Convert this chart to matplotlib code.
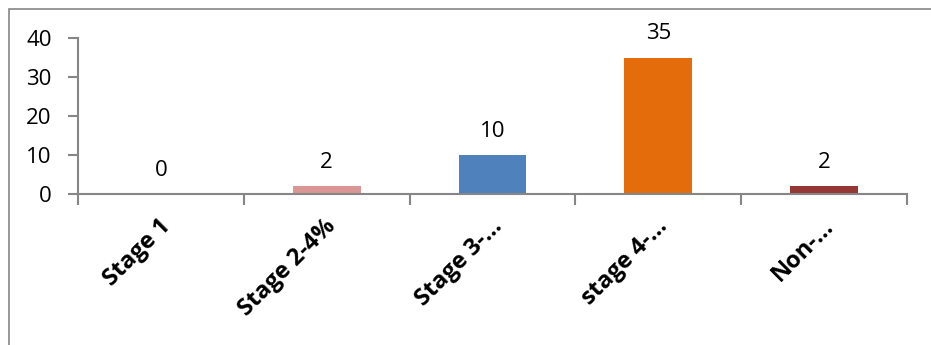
import numpy as np
import matplotlib
matplotlib.use("Agg")
import matplotlib.pyplot as plt
import matplotlib.transforms as mtransforms
from matplotlib.patches import Rectangle

categories = ["Stage 1", "Stage 2-4%", "Stage 3-\u2026", "stage 4-\u2026", "Non-\u2026"]
counts = [0, 2, 10, 35, 2]
bar_colors = ["#4F81BD", "#D99694", "#4F81BD", "#E46C0A", "#953735"]

grey = "#868686"
fs = 16

plt.rcParams["font.family"] = ["Open Sans", "DejaVu Sans"]

fig = plt.figure(figsize=(9.31, 3.45), dpi=100)
ax = fig.add_axes([78 / 931, 1 - 194 / 345, (907 - 78) / 931, (194 - 38) / 345])

x = np.arange(len(categories))
bars = ax.bar(x, counts, width=0.41, color=bar_colors)

for xi, v in zip(x, counts):
    ax.annotate(str(v), (xi, v), xytext=(0, 13), textcoords="offset points",
                ha="center", va="baseline", fontsize=fs, color="black")

ax.set_xlim(-0.5, len(categories) - 0.5)
ax.set_ylim(0, 40)
ax.set_yticks([0, 10, 20, 30, 40])

# tick marks at category boundaries, labels at centres
ax.set_xticks(np.arange(-0.5, len(categories)), minor=False)
ax.set_xticklabels([])
ax.set_xticks(x, minor=True)
ax.set_xticklabels(categories, minor=True, rotation=45, ha="right", va="center",
                   rotation_mode="anchor", fontsize=17, fontweight="bold")
ax.tick_params(axis="x", which="minor", length=0, pad=21)
ax.tick_params(axis="x", which="major", length=8, width=1.5, color=grey, direction="out")
ax.tick_params(axis="y", length=7, width=1.5, color=grey, direction="out", labelsize=fs, pad=12)

shift = mtransforms.ScaledTranslation(6 / 100, 0, fig.dpi_scale_trans)
for lab in ax.get_xticklabels(minor=True):
    lab.set_transform(lab.get_transform() + shift)

for s in ["top", "right"]:
    ax.spines[s].set_visible(False)
for s in ["left", "bottom"]:
    ax.spines[s].set_color(grey)
    ax.spines[s].set_linewidth(1.5)

# chart area border
fig.patches.append(Rectangle((9 / 931, -0.1), 1.2, 1 - 9 / 345 + 0.1,
                             transform=fig.transFigure, fill=False,
                             edgecolor=grey, linewidth=1.2))

fig.savefig("out.png", dpi=100)
